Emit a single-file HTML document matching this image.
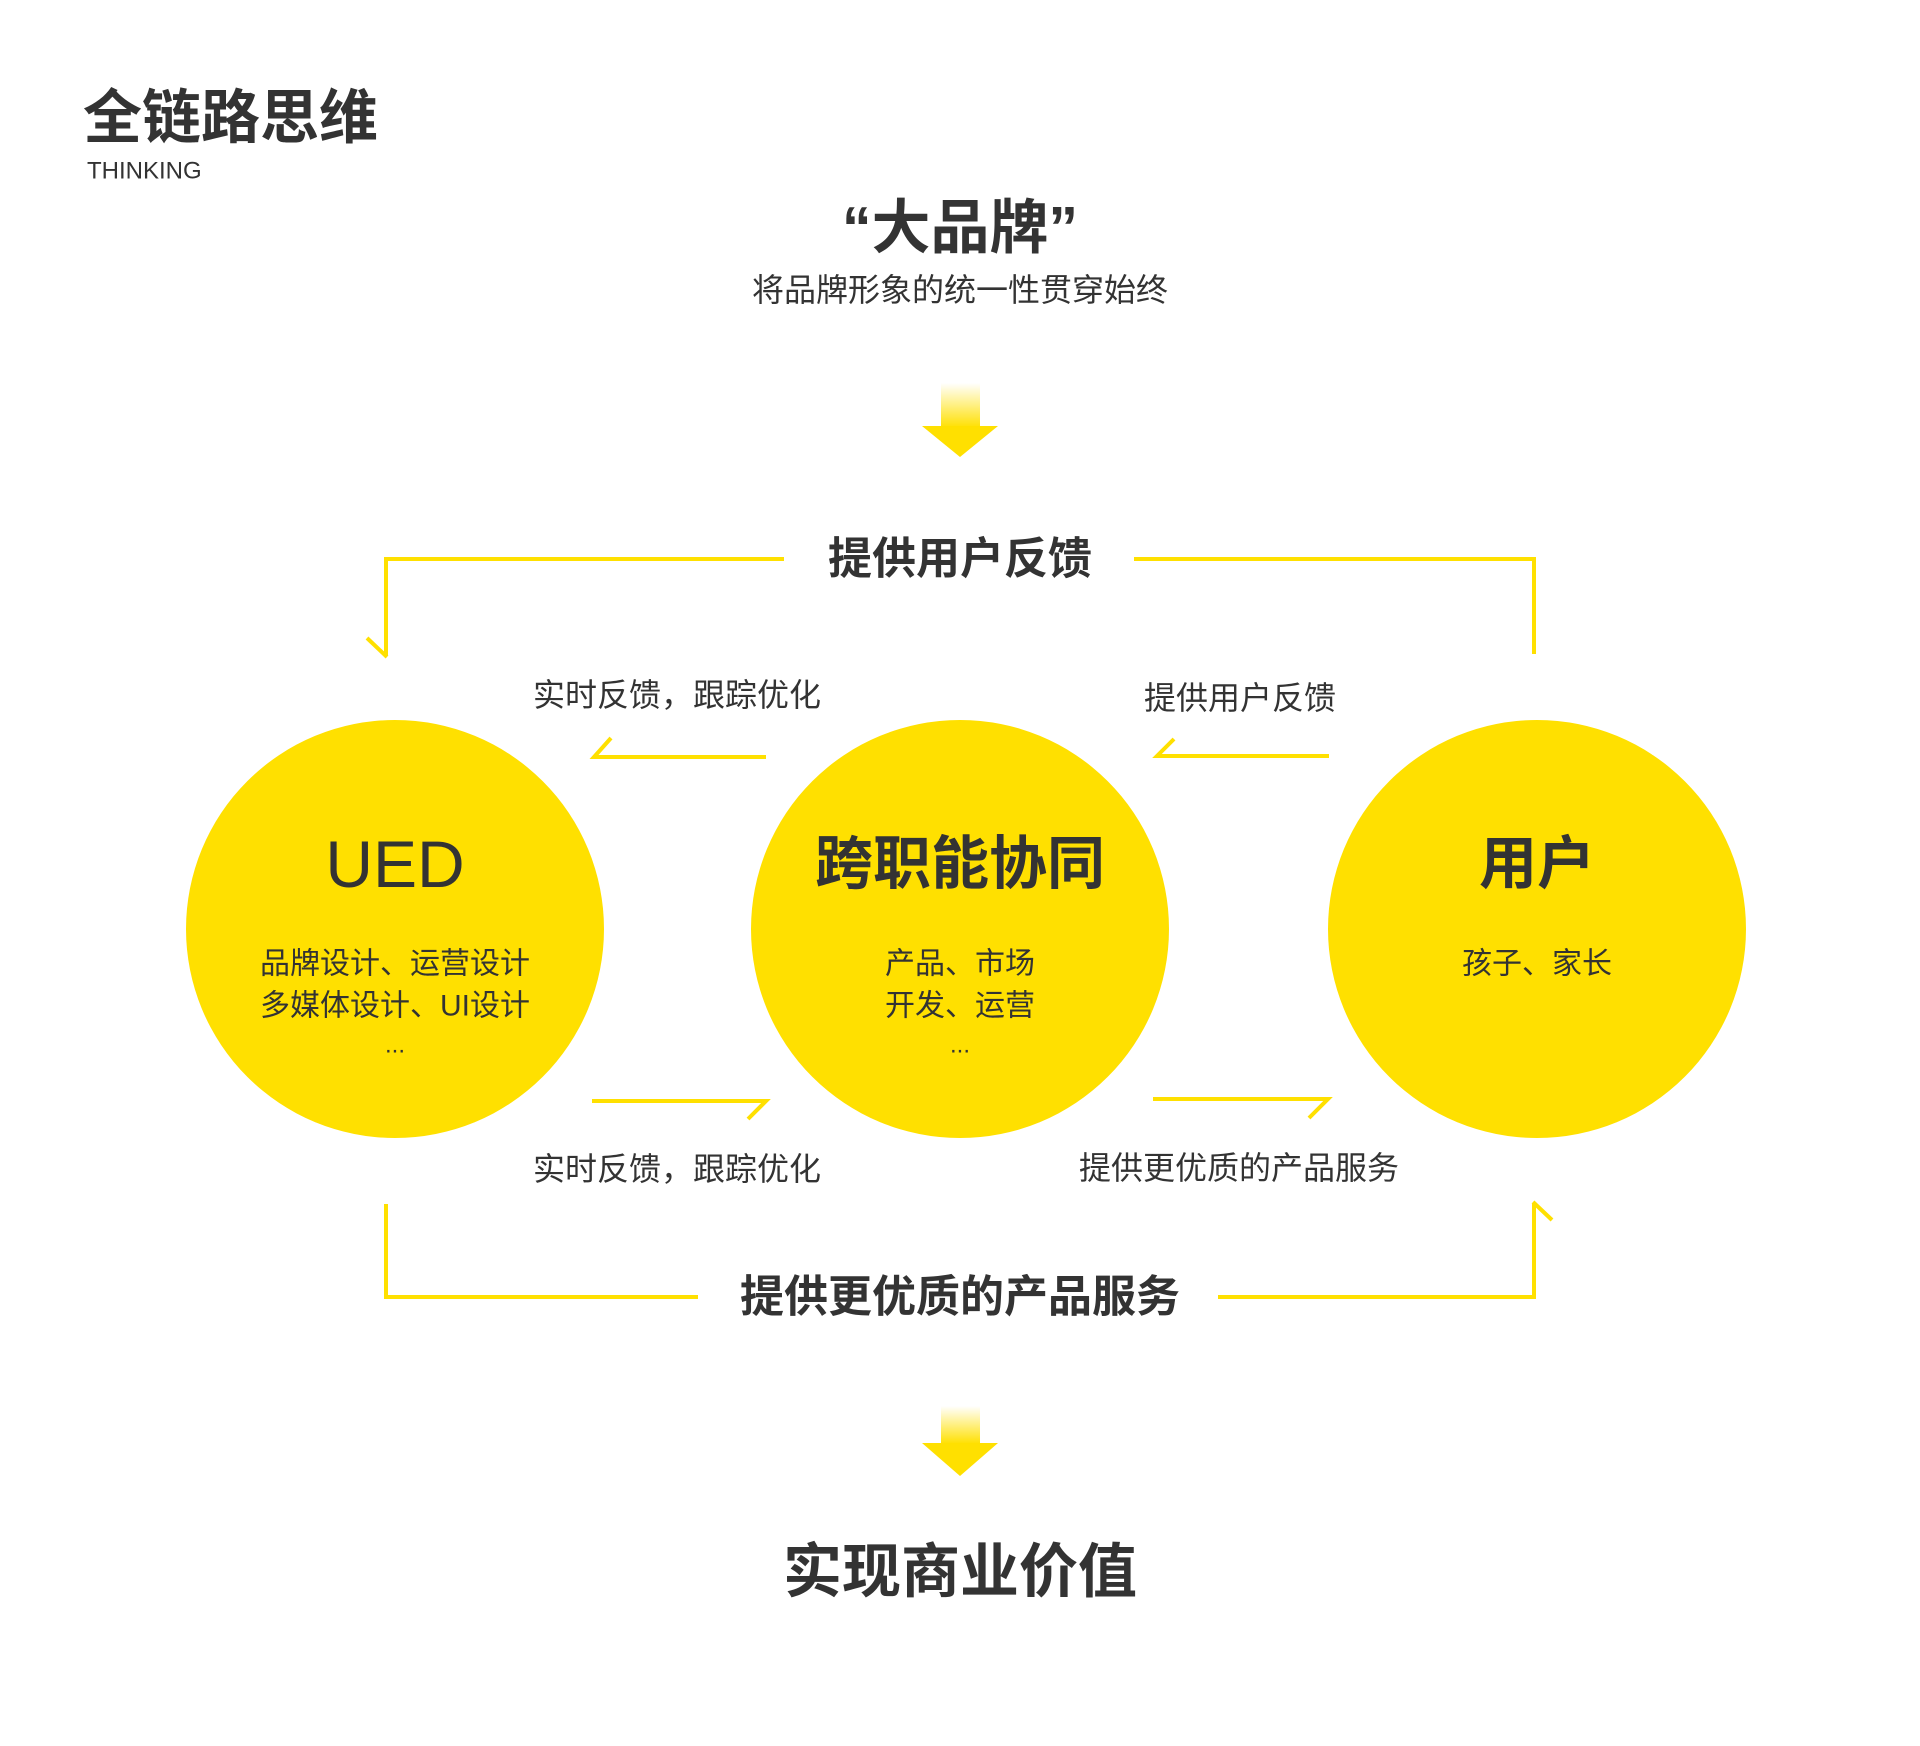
<!DOCTYPE html>
<html><head><meta charset="utf-8"><style>
html,body{margin:0;padding:0;background:#fff;}
svg{display:block;}
text{font-family:"Liberation Sans","Noto Sans CJK SC",sans-serif;fill:#333;}
</style></head><body>
<svg width="1920" height="1746" viewBox="0 0 1920 1746" xmlns="http://www.w3.org/2000/svg">
<defs>
<linearGradient id="g" x1="0" y1="0" x2="0" y2="1">
<stop offset="0" stop-color="#FFE000" stop-opacity="0"/>
<stop offset="1" stop-color="#FFE000"/>
</linearGradient>
</defs>
<rect width="1920" height="1746" fill="#fff"/>
<text x="83" y="118" font-size="59" font-weight="bold" dominant-baseline="central">全链路思维</text>
<text x="87" y="171" font-size="24" dominant-baseline="central">THINKING</text>
<text x="960" y="228" font-size="59" font-weight="bold" text-anchor="middle" dominant-baseline="central">“大品牌”</text>
<text x="960" y="290" font-size="32" text-anchor="middle" dominant-baseline="central">将品牌形象的统一性贯穿始终</text>

<rect x="941" y="383" width="39" height="45" fill="url(#g)"/>
<polygon points="922,426 998,426 960,457" fill="#FFE000"/>

<g fill="none" stroke="#FFE000" stroke-width="4">
<polyline points="784,559 386,559 386,656"/>
<line x1="367" y1="638" x2="387" y2="657"/>
<polyline points="1134,559 1534,559 1534,654"/>
<polyline points="766,757 594,757 611,738"/>
<polyline points="1329,756 1157,756 1174,739"/>
<polyline points="592,1101 766,1101 748,1119"/>
<polyline points="1153,1099 1328,1099 1309,1118"/>
<polyline points="386,1204 386,1297 698,1297"/>
<polyline points="1218,1297 1534,1297 1534,1204"/>
<line x1="1533" y1="1202" x2="1552" y2="1220"/>
</g>

<text x="960" y="559" font-size="44" font-weight="bold" text-anchor="middle" dominant-baseline="central">提供用户反馈</text>
<text x="533" y="695" font-size="32" dominant-baseline="central">实时反馈，跟踪优化</text>
<text x="1144" y="698" font-size="32" dominant-baseline="central">提供用户反馈</text>
<text x="533" y="1169" font-size="32" dominant-baseline="central">实时反馈，跟踪优化</text>
<text x="1079" y="1168" font-size="32" dominant-baseline="central">提供更优质的产品服务</text>
<text x="960" y="1297" font-size="44" font-weight="bold" text-anchor="middle" dominant-baseline="central">提供更优质的产品服务</text>

<circle cx="395" cy="929" r="209" fill="#FFE000"/>
<circle cx="960" cy="929" r="209" fill="#FFE000"/>
<circle cx="1537" cy="929" r="209" fill="#FFE000"/>

<text x="395" y="864" font-size="66" text-anchor="middle" dominant-baseline="central">UED</text>
<text x="395" y="964" font-size="30" text-anchor="middle" dominant-baseline="central">品牌设计、运营设计</text>
<text x="395" y="1006" font-size="30" text-anchor="middle" dominant-baseline="central">多媒体设计、UI设计</text>
<text x="395" y="1045" font-size="24" text-anchor="middle" dominant-baseline="central">...</text>

<text x="960" y="864" font-size="58" font-weight="bold" text-anchor="middle" dominant-baseline="central">跨职能协同</text>
<text x="960" y="964" font-size="30" text-anchor="middle" dominant-baseline="central">产品、市场</text>
<text x="960" y="1006" font-size="30" text-anchor="middle" dominant-baseline="central">开发、运营</text>
<text x="960" y="1045" font-size="24" text-anchor="middle" dominant-baseline="central">...</text>

<text x="1537" y="864" font-size="58" font-weight="bold" text-anchor="middle" dominant-baseline="central">用户</text>
<text x="1537" y="964" font-size="30" text-anchor="middle" dominant-baseline="central">孩子、家长</text>

<rect x="941" y="1406" width="39" height="38" fill="url(#g)"/>
<polygon points="922,1443 998,1443 960,1476" fill="#FFE000"/>

<text x="960" y="1572" font-size="59" font-weight="bold" text-anchor="middle" dominant-baseline="central">实现商业价值</text>
</svg>
</body></html>
